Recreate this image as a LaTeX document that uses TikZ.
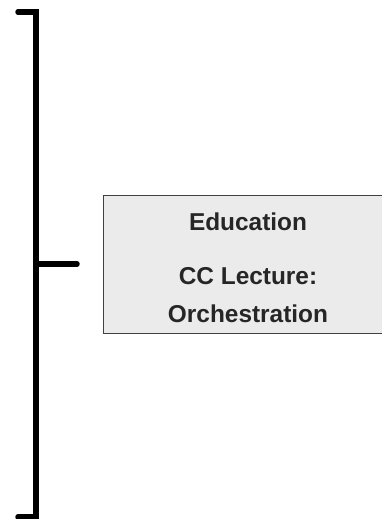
\documentclass[tikz,border=0pt]{standalone}
\usepackage{fontspec}
\setmainfont{Liberation Sans}
\begin{document}
\begin{tikzpicture}[x=1bp,y=-1bp,
  bracketline/.style={line width=5.5bp,line cap=round,line join=miter,black},
  topicbox/.style={draw=black!75,line width=1bp,fill=black!8,inner sep=0pt},
  boxtext/.style={font=\bfseries\fontsize{24.5}{29}\selectfont,anchor=base,text=black!85}]
\useasboundingbox (0,0) rectangle (381,519);
\coordinate (tl) at (18,12);
\coordinate (tr) at (36,12);
\coordinate (br) at (36,517);
\coordinate (bl) at (18,517);
\coordinate (mid) at (36,264);
\coordinate (tick) at (77,264);
\draw[bracketline] (tl) -- (tr) -- (br) -- (bl);
\draw[bracketline] (mid) -- (tick);
\node[topicbox,minimum width=292bp,minimum height=138bp,anchor=north west] (box) at (103,195) {};
\node[boxtext] (edu) at (248,230) {Education};
\node[boxtext] (cc) at (248,284) {CC Lecture:};
\node[boxtext] (orch) at (248,322) {Orchestration};
\end{tikzpicture}
\end{document}
